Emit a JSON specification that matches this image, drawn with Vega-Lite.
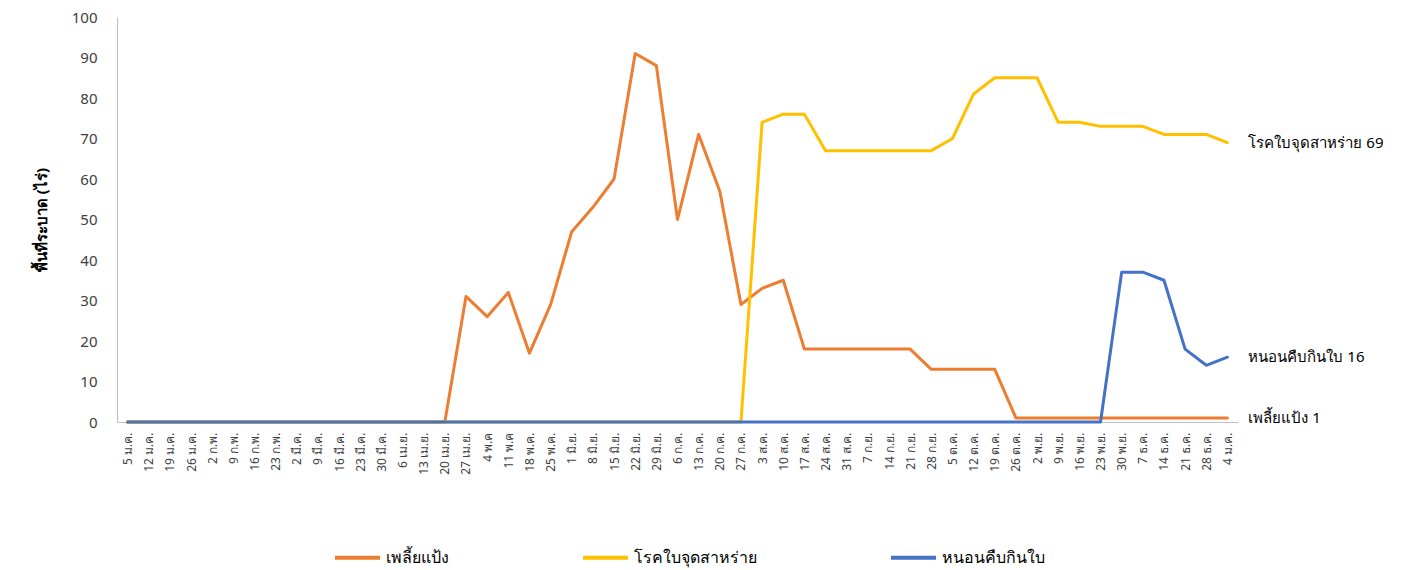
{
  "$schema": "https://vega.github.io/schema/vega-lite/v6.json",
  "autosize": "none",
  "width": 1121,
  "height": 405,
  "padding": {"left": 117, "top": 17, "right": 173, "bottom": 148},
  "background": "white",
  "config": {
    "font": "Noto Sans",
    "view": {"stroke": null},
    "axis": {"grid": false, "ticks": false, "domainColor": "#BFBFBF", "labelColor": "#404040", "titleColor": "#000000", "labelOverlap": false}
  },
  "data": {
    "values": [
      {"week": "5 ม.ค.", "เพลี้ยแป้ง": 0, "โรคใบจุดสาหร่าย": 0, "หนอนคืบกินใบ": 0},
      {"week": "12 ม.ค.", "เพลี้ยแป้ง": 0, "โรคใบจุดสาหร่าย": 0, "หนอนคืบกินใบ": 0},
      {"week": "19 ม.ค.", "เพลี้ยแป้ง": 0, "โรคใบจุดสาหร่าย": 0, "หนอนคืบกินใบ": 0},
      {"week": "26 ม.ค.", "เพลี้ยแป้ง": 0, "โรคใบจุดสาหร่าย": 0, "หนอนคืบกินใบ": 0},
      {"week": "2 ก.พ.", "เพลี้ยแป้ง": 0, "โรคใบจุดสาหร่าย": 0, "หนอนคืบกินใบ": 0},
      {"week": "9 ก.พ.", "เพลี้ยแป้ง": 0, "โรคใบจุดสาหร่าย": 0, "หนอนคืบกินใบ": 0},
      {"week": "16 ก.พ.", "เพลี้ยแป้ง": 0, "โรคใบจุดสาหร่าย": 0, "หนอนคืบกินใบ": 0},
      {"week": "23 ก.พ.", "เพลี้ยแป้ง": 0, "โรคใบจุดสาหร่าย": 0, "หนอนคืบกินใบ": 0},
      {"week": "2 มี.ค.", "เพลี้ยแป้ง": 0, "โรคใบจุดสาหร่าย": 0, "หนอนคืบกินใบ": 0},
      {"week": "9 มี.ค.", "เพลี้ยแป้ง": 0, "โรคใบจุดสาหร่าย": 0, "หนอนคืบกินใบ": 0},
      {"week": "16 มี.ค.", "เพลี้ยแป้ง": 0, "โรคใบจุดสาหร่าย": 0, "หนอนคืบกินใบ": 0},
      {"week": "23 มี.ค.", "เพลี้ยแป้ง": 0, "โรคใบจุดสาหร่าย": 0, "หนอนคืบกินใบ": 0},
      {"week": "30 มี.ค.", "เพลี้ยแป้ง": 0, "โรคใบจุดสาหร่าย": 0, "หนอนคืบกินใบ": 0},
      {"week": "6 เม.ย.", "เพลี้ยแป้ง": 0, "โรคใบจุดสาหร่าย": 0, "หนอนคืบกินใบ": 0},
      {"week": "13 เม.ย.", "เพลี้ยแป้ง": 0, "โรคใบจุดสาหร่าย": 0, "หนอนคืบกินใบ": 0},
      {"week": "20 เม.ย.", "เพลี้ยแป้ง": 0, "โรคใบจุดสาหร่าย": 0, "หนอนคืบกินใบ": 0},
      {"week": "27 เม.ย.", "เพลี้ยแป้ง": 31, "โรคใบจุดสาหร่าย": 0, "หนอนคืบกินใบ": 0},
      {"week": "4 พ.ค", "เพลี้ยแป้ง": 26, "โรคใบจุดสาหร่าย": 0, "หนอนคืบกินใบ": 0},
      {"week": "11 พ.ค", "เพลี้ยแป้ง": 32, "โรคใบจุดสาหร่าย": 0, "หนอนคืบกินใบ": 0},
      {"week": "18 พ.ค.", "เพลี้ยแป้ง": 17, "โรคใบจุดสาหร่าย": 0, "หนอนคืบกินใบ": 0},
      {"week": "25 พ.ค.", "เพลี้ยแป้ง": 29, "โรคใบจุดสาหร่าย": 0, "หนอนคืบกินใบ": 0},
      {"week": "1 มิ.ย.", "เพลี้ยแป้ง": 47, "โรคใบจุดสาหร่าย": 0, "หนอนคืบกินใบ": 0},
      {"week": "8 มิ.ย.", "เพลี้ยแป้ง": 53, "โรคใบจุดสาหร่าย": 0, "หนอนคืบกินใบ": 0},
      {"week": "15 มิ.ย.", "เพลี้ยแป้ง": 60, "โรคใบจุดสาหร่าย": 0, "หนอนคืบกินใบ": 0},
      {"week": "22 มิ.ย.", "เพลี้ยแป้ง": 91, "โรคใบจุดสาหร่าย": 0, "หนอนคืบกินใบ": 0},
      {"week": "29 มิ.ย.", "เพลี้ยแป้ง": 88, "โรคใบจุดสาหร่าย": 0, "หนอนคืบกินใบ": 0},
      {"week": "6 ก.ค.", "เพลี้ยแป้ง": 50, "โรคใบจุดสาหร่าย": 0, "หนอนคืบกินใบ": 0},
      {"week": "13 ก.ค.", "เพลี้ยแป้ง": 71, "โรคใบจุดสาหร่าย": 0, "หนอนคืบกินใบ": 0},
      {"week": "20 ก.ค.", "เพลี้ยแป้ง": 57, "โรคใบจุดสาหร่าย": 0, "หนอนคืบกินใบ": 0},
      {"week": "27 ก.ค.", "เพลี้ยแป้ง": 29, "โรคใบจุดสาหร่าย": 0, "หนอนคืบกินใบ": 0},
      {"week": "3 ส.ค.", "เพลี้ยแป้ง": 33, "โรคใบจุดสาหร่าย": 74, "หนอนคืบกินใบ": 0},
      {"week": "10 ส.ค.", "เพลี้ยแป้ง": 35, "โรคใบจุดสาหร่าย": 76, "หนอนคืบกินใบ": 0},
      {"week": "17 ส.ค.", "เพลี้ยแป้ง": 18, "โรคใบจุดสาหร่าย": 76, "หนอนคืบกินใบ": 0},
      {"week": "24 ส.ค.", "เพลี้ยแป้ง": 18, "โรคใบจุดสาหร่าย": 67, "หนอนคืบกินใบ": 0},
      {"week": "31 ส.ค.", "เพลี้ยแป้ง": 18, "โรคใบจุดสาหร่าย": 67, "หนอนคืบกินใบ": 0},
      {"week": "7 ก.ย.", "เพลี้ยแป้ง": 18, "โรคใบจุดสาหร่าย": 67, "หนอนคืบกินใบ": 0},
      {"week": "14 ก.ย.", "เพลี้ยแป้ง": 18, "โรคใบจุดสาหร่าย": 67, "หนอนคืบกินใบ": 0},
      {"week": "21 ก.ย.", "เพลี้ยแป้ง": 18, "โรคใบจุดสาหร่าย": 67, "หนอนคืบกินใบ": 0},
      {"week": "28 ก.ย.", "เพลี้ยแป้ง": 13, "โรคใบจุดสาหร่าย": 67, "หนอนคืบกินใบ": 0},
      {"week": "5 ต.ค.", "เพลี้ยแป้ง": 13, "โรคใบจุดสาหร่าย": 70, "หนอนคืบกินใบ": 0},
      {"week": "12 ต.ค.", "เพลี้ยแป้ง": 13, "โรคใบจุดสาหร่าย": 81, "หนอนคืบกินใบ": 0},
      {"week": "19 ต.ค.", "เพลี้ยแป้ง": 13, "โรคใบจุดสาหร่าย": 85, "หนอนคืบกินใบ": 0},
      {"week": "26 ต.ค.", "เพลี้ยแป้ง": 1, "โรคใบจุดสาหร่าย": 85, "หนอนคืบกินใบ": 0},
      {"week": "2 พ.ย.", "เพลี้ยแป้ง": 1, "โรคใบจุดสาหร่าย": 85, "หนอนคืบกินใบ": 0},
      {"week": "9 พ.ย.", "เพลี้ยแป้ง": 1, "โรคใบจุดสาหร่าย": 74, "หนอนคืบกินใบ": 0},
      {"week": "16 พ.ย.", "เพลี้ยแป้ง": 1, "โรคใบจุดสาหร่าย": 74, "หนอนคืบกินใบ": 0},
      {"week": "23 พ.ย.", "เพลี้ยแป้ง": 1, "โรคใบจุดสาหร่าย": 73, "หนอนคืบกินใบ": 0},
      {"week": "30 พ.ย.", "เพลี้ยแป้ง": 1, "โรคใบจุดสาหร่าย": 73, "หนอนคืบกินใบ": 37},
      {"week": "7 ธ.ค.", "เพลี้ยแป้ง": 1, "โรคใบจุดสาหร่าย": 73, "หนอนคืบกินใบ": 37},
      {"week": "14 ธ.ค.", "เพลี้ยแป้ง": 1, "โรคใบจุดสาหร่าย": 71, "หนอนคืบกินใบ": 35},
      {"week": "21 ธ.ค.", "เพลี้ยแป้ง": 1, "โรคใบจุดสาหร่าย": 71, "หนอนคืบกินใบ": 18},
      {"week": "28 ธ.ค.", "เพลี้ยแป้ง": 1, "โรคใบจุดสาหร่าย": 71, "หนอนคืบกินใบ": 14},
      {"week": "4 ม.ค.", "เพลี้ยแป้ง": 1, "โรคใบจุดสาหร่าย": 69, "หนอนคืบกินใบ": 16}
    ]
  },
  "transform": [
    {"fold": ["เพลี้ยแป้ง", "โรคใบจุดสาหร่าย", "หนอนคืบกินใบ"], "as": ["series", "value"]}
  ],
  "encoding": {
    "x": {
      "field": "week", "type": "ordinal", "sort": null,
      "scale": {"type": "point", "padding": 0.5},
      "axis": {"title": null, "labelAngle": 270, "labelFontSize": 12, "labelPadding": 10}
    },
    "y": {
      "field": "value", "type": "quantitative",
      "scale": {"domain": [0, 100], "nice": false},
      "axis": {"title": "พื้นที่ระบาด (ไร่)", "values": [0,10,20,30,40,50,60,70,80,90,100], "labelFontSize": 15, "labelPadding": 20, "titleFontSize": 15, "titleFontWeight": "bold", "titlePadding": 22}
    }
  },
  "layer": [
    {
      "mark": {"type": "line", "strokeWidth": 3, "strokeCap": "round", "strokeJoin": "round"},
      "encoding": {
        "color": {
          "field": "series", "type": "nominal",
          "scale": {"domain": ["เพลี้ยแป้ง", "โรคใบจุดสาหร่าย", "หนอนคืบกินใบ"], "range": ["#ED7D31", "#FFC000", "#4472C4"]},
          "legend": {
            "title": null, "orient": "none", "direction": "horizontal",
            "legendX": 216, "legendY": 516,
            "symbolType": "stroke", "symbolSize": 2025, "symbolStrokeWidth": 4,
            "labelFontSize": 16, "labelColor": "#000000", "labelOffset": 4,
            "columnPadding": 126
          }
        }
      }
    },
    {
      "transform": [
        {"filter": "datum.week === '4 ม.ค.'"},
        {"calculate": "datum.series + ' ' + datum.value", "as": "label"}
      ],
      "mark": {"type": "text", "align": "left", "baseline": "middle", "dx": 21, "fontSize": 15, "color": "#000000"},
      "encoding": {
        "text": {"field": "label"}
      }
    }
  ]
}
